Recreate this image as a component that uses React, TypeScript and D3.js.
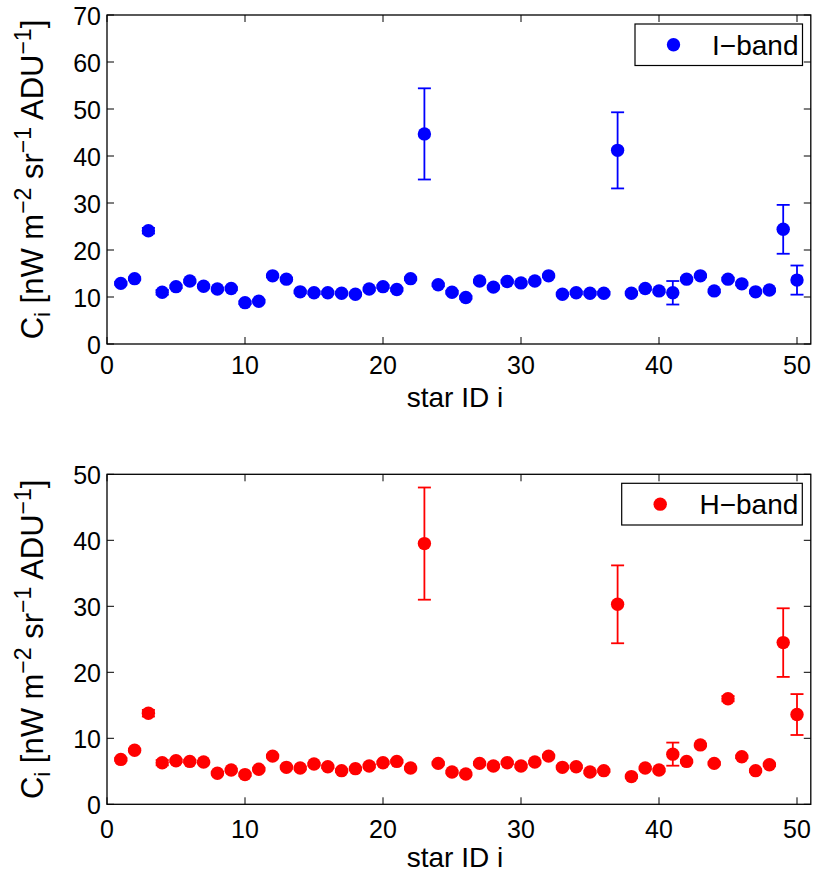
import React from "react";
import * as d3 from "d3";

const starIds = [1,2,3,4,5,6,7,8,9,10,11,12,13,14,15,16,17,18,19,20,21,22,23,24,25,26,27,28,29,30,31,32,33,34,35,36,37,38,39,40,41,42,43,44,45,46,47,48,49,50];

const iBandValues = [12.9,13.9,24.1,11.0,12.2,13.4,12.3,11.7,11.8,8.8,9.1,14.5,13.8,11.1,10.9,10.9,10.8,10.6,11.7,12.2,11.6,13.9,44.7,12.6,11.0,9.9,13.4,12.1,13.3,13.0,13.4,14.5,10.6,10.9,10.8,10.8,41.2,10.8,11.8,11.3,10.9,13.8,14.5,11.3,13.8,12.8,11.1,11.5,24.4,13.6];
const iBandErrors = [0.3,0.3,0.6,0.5,0.3,0.3,0.3,0.3,0.3,0.3,0.3,0.3,0.3,0.3,0.3,0.3,0.3,0.3,0.3,0.3,0.3,0.3,9.7,0.3,0.3,0.3,0.3,0.3,0.3,0.3,0.3,0.3,0.3,0.3,0.3,0.3,8.1,0.3,0.3,0.3,2.5,0.3,0.3,0.3,0.3,0.3,0.3,0.3,5.2,3.1];

const hBandValues = [6.8,8.2,13.8,6.3,6.6,6.5,6.4,4.7,5.2,4.5,5.3,7.3,5.6,5.5,6.1,5.7,5.1,5.4,5.8,6.3,6.5,5.5,39.5,6.2,4.9,4.6,6.2,5.8,6.3,5.8,6.4,7.3,5.6,5.7,4.9,5.1,30.3,4.2,5.5,5.2,7.6,6.5,9.0,6.2,16.0,7.2,5.1,6.0,24.5,13.6];
const hBandErrors = [0.2,0.2,0.5,0.4,0.2,0.2,0.2,0.2,0.2,0.2,0.2,0.2,0.2,0.2,0.2,0.2,0.2,0.2,0.2,0.2,0.2,0.2,8.5,0.2,0.2,0.2,0.2,0.2,0.2,0.2,0.2,0.2,0.2,0.2,0.2,0.2,5.9,0.2,0.2,0.2,1.75,0.2,0.2,0.2,0.4,0.2,0.2,0.2,5.2,3.1];

const xTicks = [0, 10, 20, 30, 40, 50];
const iBandYTicks = [0, 10, 20, 30, 40, 50, 60, 70];
const hBandYTicks = [0, 10, 20, 30, 40, 50];

const FONT = "'Liberation Sans', Arial, Helvetica, sans-serif";

type PanelProps = {
  top: number;
  bottom: number;
  values: number[];
  errors: number[];
  yTicks: number[];
  yMax: number;
  color: string;
  legend: string;
  legendBox: [number, number, number, number];
  tickBaseline: number;
};

const LEFT = 107;
const RIGHT = 810.8;

function Panel(p: PanelProps) {
  const x = d3.scaleLinear().domain([0, 51]).range([LEFT, RIGHT]);
  const y = d3.scaleLinear().domain([0, p.yMax]).range([p.bottom, p.top]);
  const tickLen = 7;
  const capHalf = 6.5;
  const [lx0, ly0, lx1, ly1] = p.legendBox;
  const lyc = (ly0 + ly1) / 2;
  const yMid = (p.top + p.bottom) / 2;
  return (
    <g>
      {starIds.map((id, i) => {
        const v = p.values[i];
        const e = p.errors[i];
        const cx = x(id);
        return (
          <g key={"e" + id} stroke={p.color} strokeWidth={1.8} fill="none">
            <line x1={cx} x2={cx} y1={y(v - e)} y2={y(v + e)} />
            <line x1={cx - capHalf} x2={cx + capHalf} y1={y(v - e)} y2={y(v - e)} />
            <line x1={cx - capHalf} x2={cx + capHalf} y1={y(v + e)} y2={y(v + e)} />
          </g>
        );
      })}
      {starIds.map((id, i) => (
        <circle key={"m" + id} cx={x(id)} cy={y(p.values[i])} r={6.7} fill={p.color} />
      ))}
      <rect x={LEFT} y={p.top} width={RIGHT - LEFT} height={p.bottom - p.top} fill="none" stroke="#000" strokeWidth={1.3} />
      {xTicks.map((t) => (
        <g key={"xt" + t}>
          <line x1={x(t)} x2={x(t)} y1={p.bottom} y2={p.bottom - tickLen} stroke="#000" strokeWidth={1} />
          <line x1={x(t)} x2={x(t)} y1={p.top} y2={p.top + tickLen} stroke="#000" strokeWidth={1} />
          <text x={x(t)} y={p.tickBaseline} textAnchor="middle" fontSize={25} fontFamily={FONT} fill="#000">{t}</text>
        </g>
      ))}
      {p.yTicks.map((t) => (
        <g key={"yt" + t}>
          <line x1={LEFT} x2={LEFT + tickLen} y1={y(t)} y2={y(t)} stroke="#000" strokeWidth={1} />
          <line x1={RIGHT} x2={RIGHT - tickLen} y1={y(t)} y2={y(t)} stroke="#000" strokeWidth={1} />
          <text x={LEFT - 6} y={y(t) + 9.5} textAnchor="end" fontSize={25} fontFamily={FONT} fill="#000">{t}</text>
        </g>
      ))}
      <text x={455} y={p.bottom + 63} textAnchor="middle" fontSize={28} fontFamily={FONT} fill="#000">star ID i</text>
      <text transform={`translate(43,${yMid}) rotate(-90)`} textAnchor="middle" fontSize={31} fontFamily={FONT} fill="#000">
        <tspan>C</tspan>
        <tspan fontSize={22} dy={7}>i</tspan>
        <tspan dy={-7}> [nW m</tspan>
        <tspan fontSize={23} dy={-12}>−2</tspan>
        <tspan dy={12}> sr</tspan>
        <tspan fontSize={23} dy={-12}>−1</tspan>
        <tspan dy={12}> ADU</tspan>
        <tspan fontSize={23} dy={-12}>−1</tspan>
        <tspan dy={12}>]</tspan>
      </text>
      <rect x={lx0} y={ly0} width={lx1 - lx0} height={ly1 - ly0} fill="#fff" stroke="#000" strokeWidth={1.2} />
      <circle cx={lx0 + 38.5} cy={lyc} r={6.7} fill={p.color} />
      <text x={lx1 - 4} y={lyc + 10} textAnchor="end" fontSize={28} fontFamily={FONT} fill="#000">{p.legend}</text>
    </g>
  );
}

export default function App() {
  return (
    <svg width={818} height={875} style={{ position: "absolute", left: 0, top: 0, background: "#fff" }}>
      <rect x={0} y={0} width={818} height={875} fill="#fff" />
      <Panel
        top={15}
        bottom={344}
        values={iBandValues}
        errors={iBandErrors}
        yTicks={iBandYTicks}
        yMax={70}
        color="#0000ff"
        legend="I−band"
        legendBox={[635, 24, 802.5, 65.5]}
        tickBaseline={374}
      />
      <Panel
        top={474.3}
        bottom={804.3}
        values={hBandValues}
        errors={hBandErrors}
        yTicks={hBandYTicks}
        yMax={50}
        color="#ff0000"
        legend="H−band"
        legendBox={[621.7, 483.3, 802.3, 525]}
        tickBaseline={838}
      />
    </svg>
  );
}
